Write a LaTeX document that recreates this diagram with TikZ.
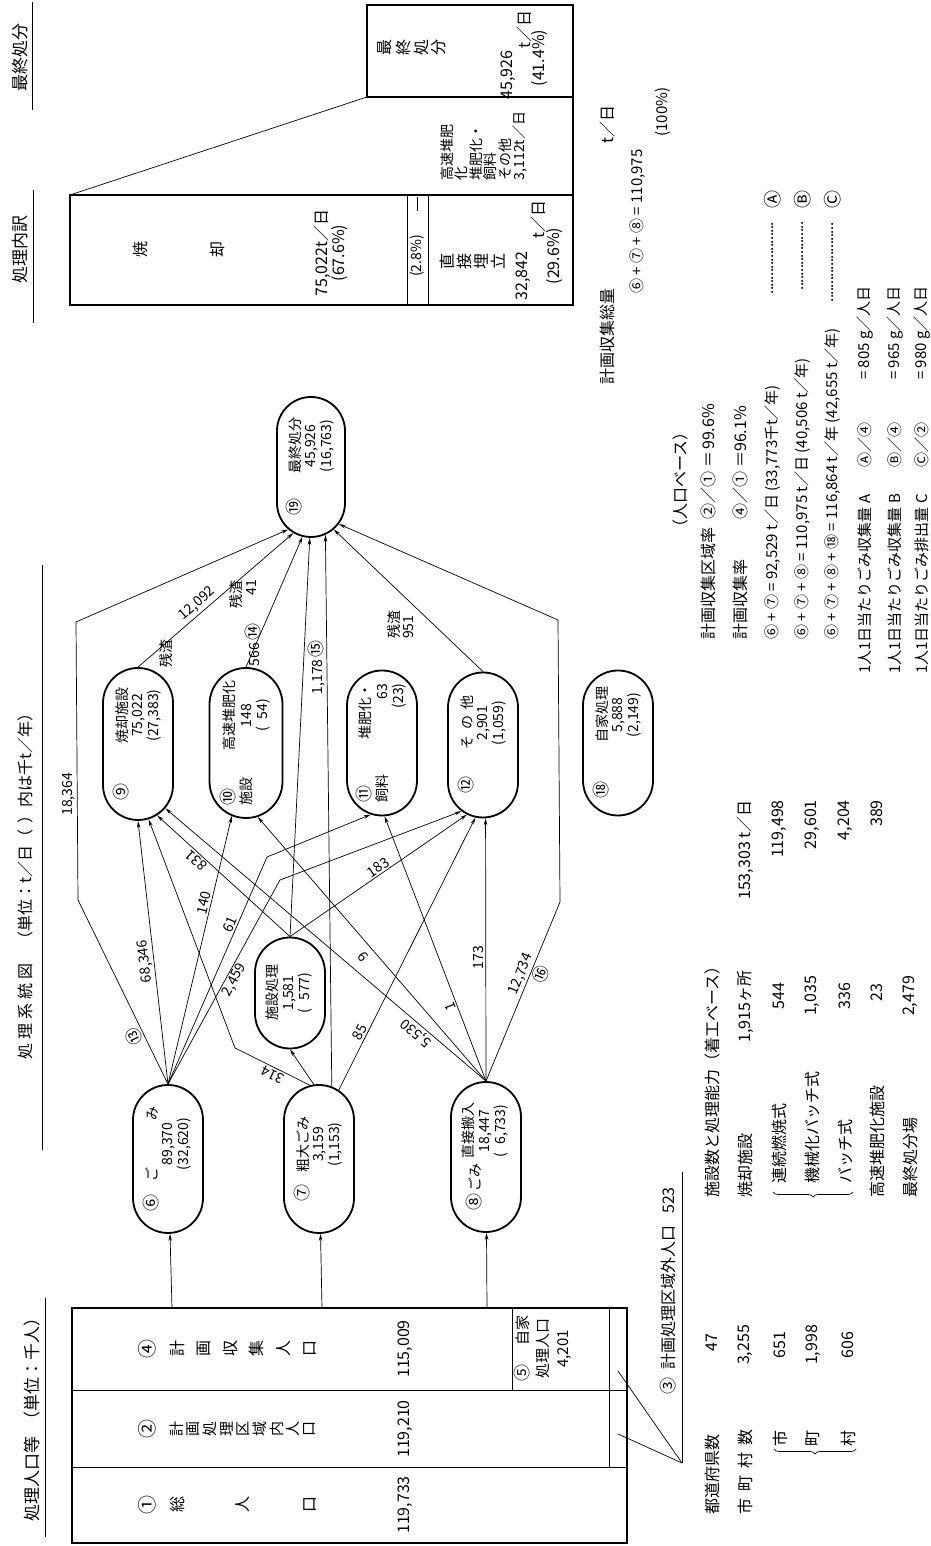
\documentclass[tikz,border=0pt]{standalone}
\usepackage{fontspec}
\setmainfont{Noto Sans CJK JP}
\usetikzlibrary{arrows.meta,shapes.misc,decorations.pathreplacing}
\newcommand{\dotrun}[1]{\hbox to #1{\leaders\hbox to 3.6pt{\hss.\hss}\hfill}}
\newcommand{\cnum}[1]{{\fontsize{17}{15}\selectfont #1}}
\begin{document}
\begin{tikzpicture}[x=1pt,y=1pt,
  frame/.style={line width=1.7pt},
  rule/.style={line width=0.7pt},
  pill/.style={rounded rectangle, draw, line width=1.8pt, minimum width=148pt,
    minimum height=70pt, inner sep=0pt, font=\fontsize{14}{15.5}\selectfont},
  flow/.style={line width=0.7pt, -{Stealth[length=7pt,width=3.5pt]}},
  lb/.style={font=\fontsize{14}{15}\selectfont, inner sep=1.5pt},
  tx/.style={font=\fontsize{16}{18}\selectfont, inner sep=0pt},
  fx/.style={font=\fontsize{15}{17}\selectfont, inner sep=0pt},
  hd/.style={font=\fontsize{17}{19}\selectfont, inner sep=0pt},
  ch/.style={font=\fontsize{16}{16}\selectfont, inner sep=0pt},
  sm/.style={font=\fontsize{16}{17}\selectfont, inner sep=0pt, align=center},
]
\useasboundingbox (0,0) rectangle (930,1546);
\fill[white] (0,0) rectangle (930,1546);
% the sheet is laid out in landscape and turned a quarter turn
\begin{scope}[rotate=90, transform shape]

% ================= population block
\node[hd, anchor=west] (popHead) at (24,-32) {処理人口等\hspace{8pt}（単位：千人）};
\draw[rule] (9,-45) -- (248,-45);
\draw[frame] (3,-72) rectangle (238,-627);
\draw[rule] (79,-72) -- (79,-627);
\draw[rule] (156,-72) -- (156,-627);
\draw[rule] (156,-512) -- (238,-512);
\draw[rule] (79,-609) -- (238,-609);
\node[ch, font=\fontsize{19}{19}\selectfont] (paNum) at (41,-147) {①};
\foreach \c/\v [count=\i] in {総/177,人/243,口/310}
  \node[ch] (pa\i) at (41,-\v) {\c};
\node[ch, font=\fontsize{19}{19}\selectfont] (pbNum) at (117,-147) {②};
\foreach \c [count=\i] in {計,画,処,理,区,域,内,人,口}
  \node[ch, font=\fontsize{15}{15}\selectfont] (pb\i) at (117,{-177-16.6*(\i-1)}) {\c};
\node[ch, font=\fontsize{19}{19}\selectfont] (pdNum) at (197,-147) {④};
\foreach \c [count=\i] in {計,画,収,集,人,口}
  \node[ch] (pd\i) at (197,{-177-26.6*(\i-1)}) {\c};
\node[tx] (popA) at (41,-405) {119,733};
\node[tx] (popB) at (117,-405) {119,210};
\node[tx] (popD) at (197,-405) {115,009};
\node[sm, font=\fontsize{15}{20}\selectfont] (selfPop) at (197,-543)
  {\makebox[66pt]{\cnum{⑤}\hfill 自家}\\処理人口\\4,201};
\coordinate (t6) at (238,-172);
\coordinate (t7) at (238,-322);
\coordinate (t8) at (238,-487);

% area outside the planned district
\coordinate (outA) at (83,-682);
\node[tx, anchor=west] (outLbl) at (151,-668)
  {\cnum{③}\hspace{8pt}計画処理区域外人口\hspace{12pt}523};
\draw[rule] (outA) -- (374,-682);
\draw[rule] (outA) -- (175,-618);
\draw[rule] (outA) -- (112,-618);

% prefectures and municipalities
\node[tx, anchor=west] (pref) at (31,-712) {都道府県数};
\node[tx] (prefN) at (203,-712) {47};
\node[tx, anchor=west] (muni) at (31,-745) {市\hspace{7pt}町\hspace{7pt}村\hspace{7pt}数};
\node[tx] (muniN) at (201,-745) {3,255};
\node[tx] (city) at (107,-780) {市};
\node[tx] (cityN) at (201,-780) {651};
\node[tx] (town) at (107,-813) {町};
\node[tx] (townN) at (201,-813) {1,998};
\node[tx] (vill) at (107,-848) {村};
\node[tx] (villN) at (201,-848) {606};
\draw[rule, decorate, decoration={brace, amplitude=5pt}] (97,-856) -- (97,-774);

% facilities
\node[tx, anchor=west] (facHead) at (348,-712) {施設数と処理能力（着工ベース）};
\node[tx, anchor=west] (fac1) at (348,-745) {焼却施設};
\node[tx, anchor=west] (fac1a) at (503,-745) {1,915ヶ所};
\node[tx, anchor=west] (fac1b) at (646,-745) {153,303 t／日};
\node[tx, anchor=west] (fac2) at (362,-779) {連続燃焼式};
\node[tx] (fac2a) at (550,-779) {544};
\node[tx, anchor=east] (fac2b) at (746,-779) {119,498};
\node[tx, anchor=west] (fac3) at (362,-812) {機械化バッチ式};
\node[tx] (fac3a) at (550,-812) {1,035};
\node[tx, anchor=east] (fac3b) at (746,-812) {29,601};
\node[tx, anchor=west] (fac4) at (362,-845) {バッチ式};
\node[tx] (fac4a) at (550,-845) {336};
\node[tx, anchor=east] (fac4b) at (746,-845) {4,204};
\node[tx, anchor=west] (fac5) at (348,-877) {高速堆肥化施設};
\node[tx] (fac5a) at (553,-877) {23};
\node[tx, anchor=east] (fac5b) at (746,-877) {389};
\node[tx, anchor=west] (fac6) at (348,-910) {最終処分場};
\node[tx] (fac6a) at (550,-910) {2,479};
\draw[rule, decorate, decoration={brace, amplitude=5pt}] (354,-853) -- (354,-773);

% ================= flow diagram
\node[hd, font=\fontsize{16}{18}\selectfont, anchor=west] (flowHead) at (486,-25)
  {処\hspace{4pt}理\hspace{4pt}系\hspace{4pt}統\hspace{4pt}図\hspace{16pt}（単位：t／日（\hspace{6pt}）内は千t／年）};
\draw[rule] (396,-42) -- (981,-42);

\node[pill] (n6) at (387,-168) {\begin{tabular}{@{}l@{\hspace{13pt}}c@{}}\cnum{⑥}&\makebox[75pt]{ご\hfill み}\\&89,370\\&(32,620)\end{tabular}};
\node[pill] (n7) at (387,-319) {\begin{tabular}{@{}l@{\hspace{12pt}}c@{}}\cnum{⑦}&粗大ごみ\\&3,159\\&(1,153)\end{tabular}};
\node[pill, minimum width=150pt] (n8) at (389,-486) {\begin{tabular}{@{}l@{\hspace{5pt}}c@{}}\raisebox{-7pt}[0pt][0pt]{\cnum{⑧}\hspace{2pt}ごみ}&直接搬入\\&18,447\\&(\phantom{0}6,733)\end{tabular}};
\node[pill, minimum width=111pt] (nS) at (553,-290) {\begin{tabular}{@{}c@{}}施設処理\\1,581\\(\phantom{0}577)\end{tabular}};
\node[pill, minimum width=152pt] (n9) at (802,-138) {\begin{tabular}{@{}l@{\hspace{40pt}}c@{}}\cnum{⑨}&焼却施設\\&75,022\\&(27,383)\end{tabular}};
\node[pill, minimum width=150pt, minimum height=73pt] (n10) at (803,-246) {\begin{tabular}{@{}l@{\hspace{27pt}}c@{}}\cnum{⑩}&高速堆肥化\\施設&148\\&(\phantom{0}54)\end{tabular}};
\node[pill, minimum width=145pt] (n11) at (803,-382) {\begin{tabular}{@{}l@{\hspace{35pt}}r@{}}\cnum{⑪}&堆肥化・\\飼料&63\\&(23)\end{tabular}};
\node[pill, minimum width=145pt] (n12) at (801,-483) {\begin{tabular}{@{}l@{\hspace{27pt}}c@{}}\cnum{⑫}&そ\hspace{6pt}の\hspace{6pt}他\\&2,901\\&(1,059)\end{tabular}};
\node[pill, minimum width=145pt] (n18) at (803,-618) {\begin{tabular}{@{}l@{\hspace{39pt}}c@{}}\cnum{⑱}&自家処理\\&5,888\\&(2,149)\end{tabular}};
\node[pill, minimum width=140pt, minimum height=68pt] (n19) at (1079,-311) {\begin{tabular}{@{}l@{\hspace{25pt}}c@{}}\cnum{⑲}&最終処分\\&45,926\\&(16,763)\end{tabular}};

\coordinate (b13a) at (646,-78);
\coordinate (b13b) at (924,-76);
\coordinate (b16a) at (644,-560);
\coordinate (b16b) at (926,-558);
\coordinate (b314) at (498,-235);
\coordinate (b61) at (689,-267);
\coordinate (b2459) at (666,-280);

% collection into the three streams
\draw[flow] (t6) -- (n6);
\draw[flow] (t7) -- (n7);
\draw[flow] (t8) -- (n8);

% from household waste
\draw[flow] (n6.east) -- node[lb,pos=0.28,sloped,above]{\cnum{⑬}} (b13a)
  -- node[lb,pos=0.38,above]{18,364} (b13b) -- (n19.160);
\draw[flow] (n6.east) -- node[lb,pos=0.47,sloped,above]{68,346} (n9.180);
\draw[flow] (n6.east) -- node[lb,pos=0.67,sloped,above]{140} (n10.169);
\draw[flow] (n6.east) -- node[lb,pos=0.69,sloped,above]{61} (b61) -- (n11.171);
\draw[flow] (n6.east) -- node[lb,pos=0.53,sloped,below]{2,459} (b2459) -- (n12.162);

% from bulky waste
\draw[flow] (n7.7) -- node[lb,pos=0.45,sloped,above]{314} (b314) -- (n9.188);
\draw[flow] (n7.4) -- (nS.west);
\draw[flow] (n7.350) -- node[lb,pos=0.76,sloped,above]{1,178\,\cnum{⑮}} (n19.192);
\draw[flow] (n7.344) -- node[lb,pos=0.2,sloped,above]{85} (n12.174);

% from the pre-treatment facility
\draw[flow] (nS.east) -- node[lb,pos=0.67,sloped,above]{831} (n9.195);
\draw[flow] (nS.east) -- node[lb,pos=0.52,sloped,above]{183} (n12.167);
\draw[flow] (nS.east) -- (n19.179);
\node[lb] (lbl566) at (901,-253) {566\,\cnum{⑭}};

% from direct delivery
\draw[flow] (n8.east) -- node[lb,pos=0.2,sloped,above]{5,530} (n9.203);
\draw[flow] (n8.east) -- node[lb,pos=0.5,sloped,above=5pt]{9} (n10.189);
\draw[flow] (n8.east) -- node[lb,pos=0.29,sloped,above]{1} (n11.182);
\draw[flow] (n8.east) -- node[lb,pos=0.47,above]{173} (n12.182);
\draw[flow] (n8.east) -- node[lb,pos=0.58,sloped,above]{12,734} node[lb,pos=0.62,sloped,below]{\cnum{⑯}} (b16a)
  -- (b16b) -- (n19.206);

% residues to final disposal
\draw[flow] (n9.east) -- node[lb,pos=0.42,sloped,above=1pt]{12,092} (n19.165);
\node[lb] (res9) at (892,-166) {残渣};
\draw[flow] (n10.east) -- (n19.173);
\node[lb] (res10) at (951,-236) {残渣};
\node[lb] (res10n) at (958,-252) {41};
\draw[flow] (n12.east) -- (n19.200);
\node[lb, align=left, font=\fontsize{14}{14}\selectfont] (res12) at (921,-401) {残渣\\951};

% ================= rates and totals
\node[tx] (basis) at (1066,-680) {（人口ベース）};
\node[tx, anchor=west] (r1) at (906,-708) {計画収集区域率};
\node[tx, anchor=west] (r1v) at (1026,-708) {②／①\hspace{4pt}＝\hspace{2pt}99.6\%};
\node[tx, anchor=west] (r2) at (906,-740) {計画収集率};
\node[tx, anchor=west] (r2v) at (1026,-740) {④／①\hspace{4pt}＝96.1\%};
\node[fx, anchor=west] (r3) at (906,-773) {⑥ + ⑦ = 92,529 t／日 (33,773千t／年)};
\node[fx, anchor=west] (r4) at (906,-803) {⑥ + ⑦ + ⑧ = 110,975 t／日 (40,506 t／年)};
\node[fx, anchor=west] (r5) at (906,-833) {⑥ + ⑦ + ⑧ + ⑱ = 116,864 t／年 (42,655 t／年)};
\node[fx, anchor=east] (d3) at (1326,-773) {\dotrun{74pt}};
\node[fx, anchor=east] (d4) at (1326,-803) {\dotrun{70pt}};
\node[fx, anchor=east] (d5) at (1326,-833) {\dotrun{82pt}};
\node[tx, font=\fontsize{18}{18}\selectfont] (cA) at (1346,-773) {Ⓐ};
\node[tx, font=\fontsize{18}{18}\selectfont] (cB) at (1346,-803) {Ⓑ};
\node[tx, font=\fontsize{18}{18}\selectfont] (cC) at (1346,-833) {Ⓒ};
\node[fx, anchor=west] (r6) at (872,-865) {1人1日当たりごみ収集量 A};
\node[fx, anchor=west] (r6a) at (1078,-865) {Ⓐ／④};
\node[fx, anchor=west] (r6b) at (1166,-865) {= 805 g／人日};
\node[fx, anchor=west] (r7) at (872,-895) {1人1日当たりごみ収集量 B};
\node[fx, anchor=west] (r7a) at (1078,-895) {Ⓑ／④};
\node[fx, anchor=west] (r7b) at (1166,-895) {= 965 g／人日};
\node[fx, anchor=west] (r8) at (872,-922) {1人1日当たりごみ排出量 C};
\node[fx, anchor=west] (r8a) at (1078,-922) {Ⓒ／②};
\node[fx, anchor=west] (r8b) at (1166,-922) {= 980 g／人日};

\node[tx, anchor=west] (tot1) at (1161,-607) {計画収集総量};
\node[tx] (tot2) at (1421,-607) {t／日};
\node[fx, anchor=west] (tot3) at (1252,-638) {⑥ + ⑦ + ⑧ = 110,975};
\node[fx] (tot4) at (1434,-663) {(100\%)};

% ================= breakdown of treatment
\node[hd] (bdHead) at (1296,-20) {処理内訳};
\draw[rule] (1223,-33) -- (1356,-33);
\node[hd] (fdHead) at (1488,-20) {最終処分};
\draw[rule] (1436,-32) -- (1544,-32);
\draw[frame] (1241,-70) rectangle (1351,-573);
\draw[rule] (1241,-407) -- (1351,-407);
\draw[rule] (1241,-428) -- (1351,-428);
\draw[frame] (1449,-367) rectangle (1541,-573);
\draw[frame] (1351,-573) -- (1449,-573);
\draw[rule] (1351,-70) -- (1449,-367);
\node[ch] (inc1) at (1296,-140) {焼};
\node[ch] (inc2) at (1296,-217) {却};
\node[sm] (incV) at (1293,-331) {75,022t／日\\(67.6\%)};
\node[sm, font=\fontsize{14}{15}\selectfont] (strip) at (1290,-417) {(2.8\%)};
\draw[rule] (1335,-417) -- (1349,-417);
\node[sm, align=left, font=\fontsize{14}{14.5}\selectfont] (compV) at (1400,-484)
  {高速堆肥\\化\\堆肥化・\\飼料\\その他\\3,112t／日};
\foreach \c/\v [count=\i] in {直/447,接/464,埋/481,立/498}
  \node[sm] (lf\i) at (1284,-\v) {\c};
\node[sm] (lfV) at (1270,-523) {32,842};
\node[sm] (lfU) at (1326,-538) {t／日};
\node[sm] (lfP) at (1290,-555) {(29.6\%)};
\foreach \c/\v [count=\i] in {最/385,終/403,処/421,分/439}
  \node[sm] (fd\i) at (1498,-\v) {\c};
\node[sm] (fdV) at (1471,-508) {45,926};
\node[sm] (fdU) at (1516,-524) {t／日};
\node[sm] (fdP) at (1488,-540) {(41.4\%)};

\end{scope}
\end{tikzpicture}
\end{document}
